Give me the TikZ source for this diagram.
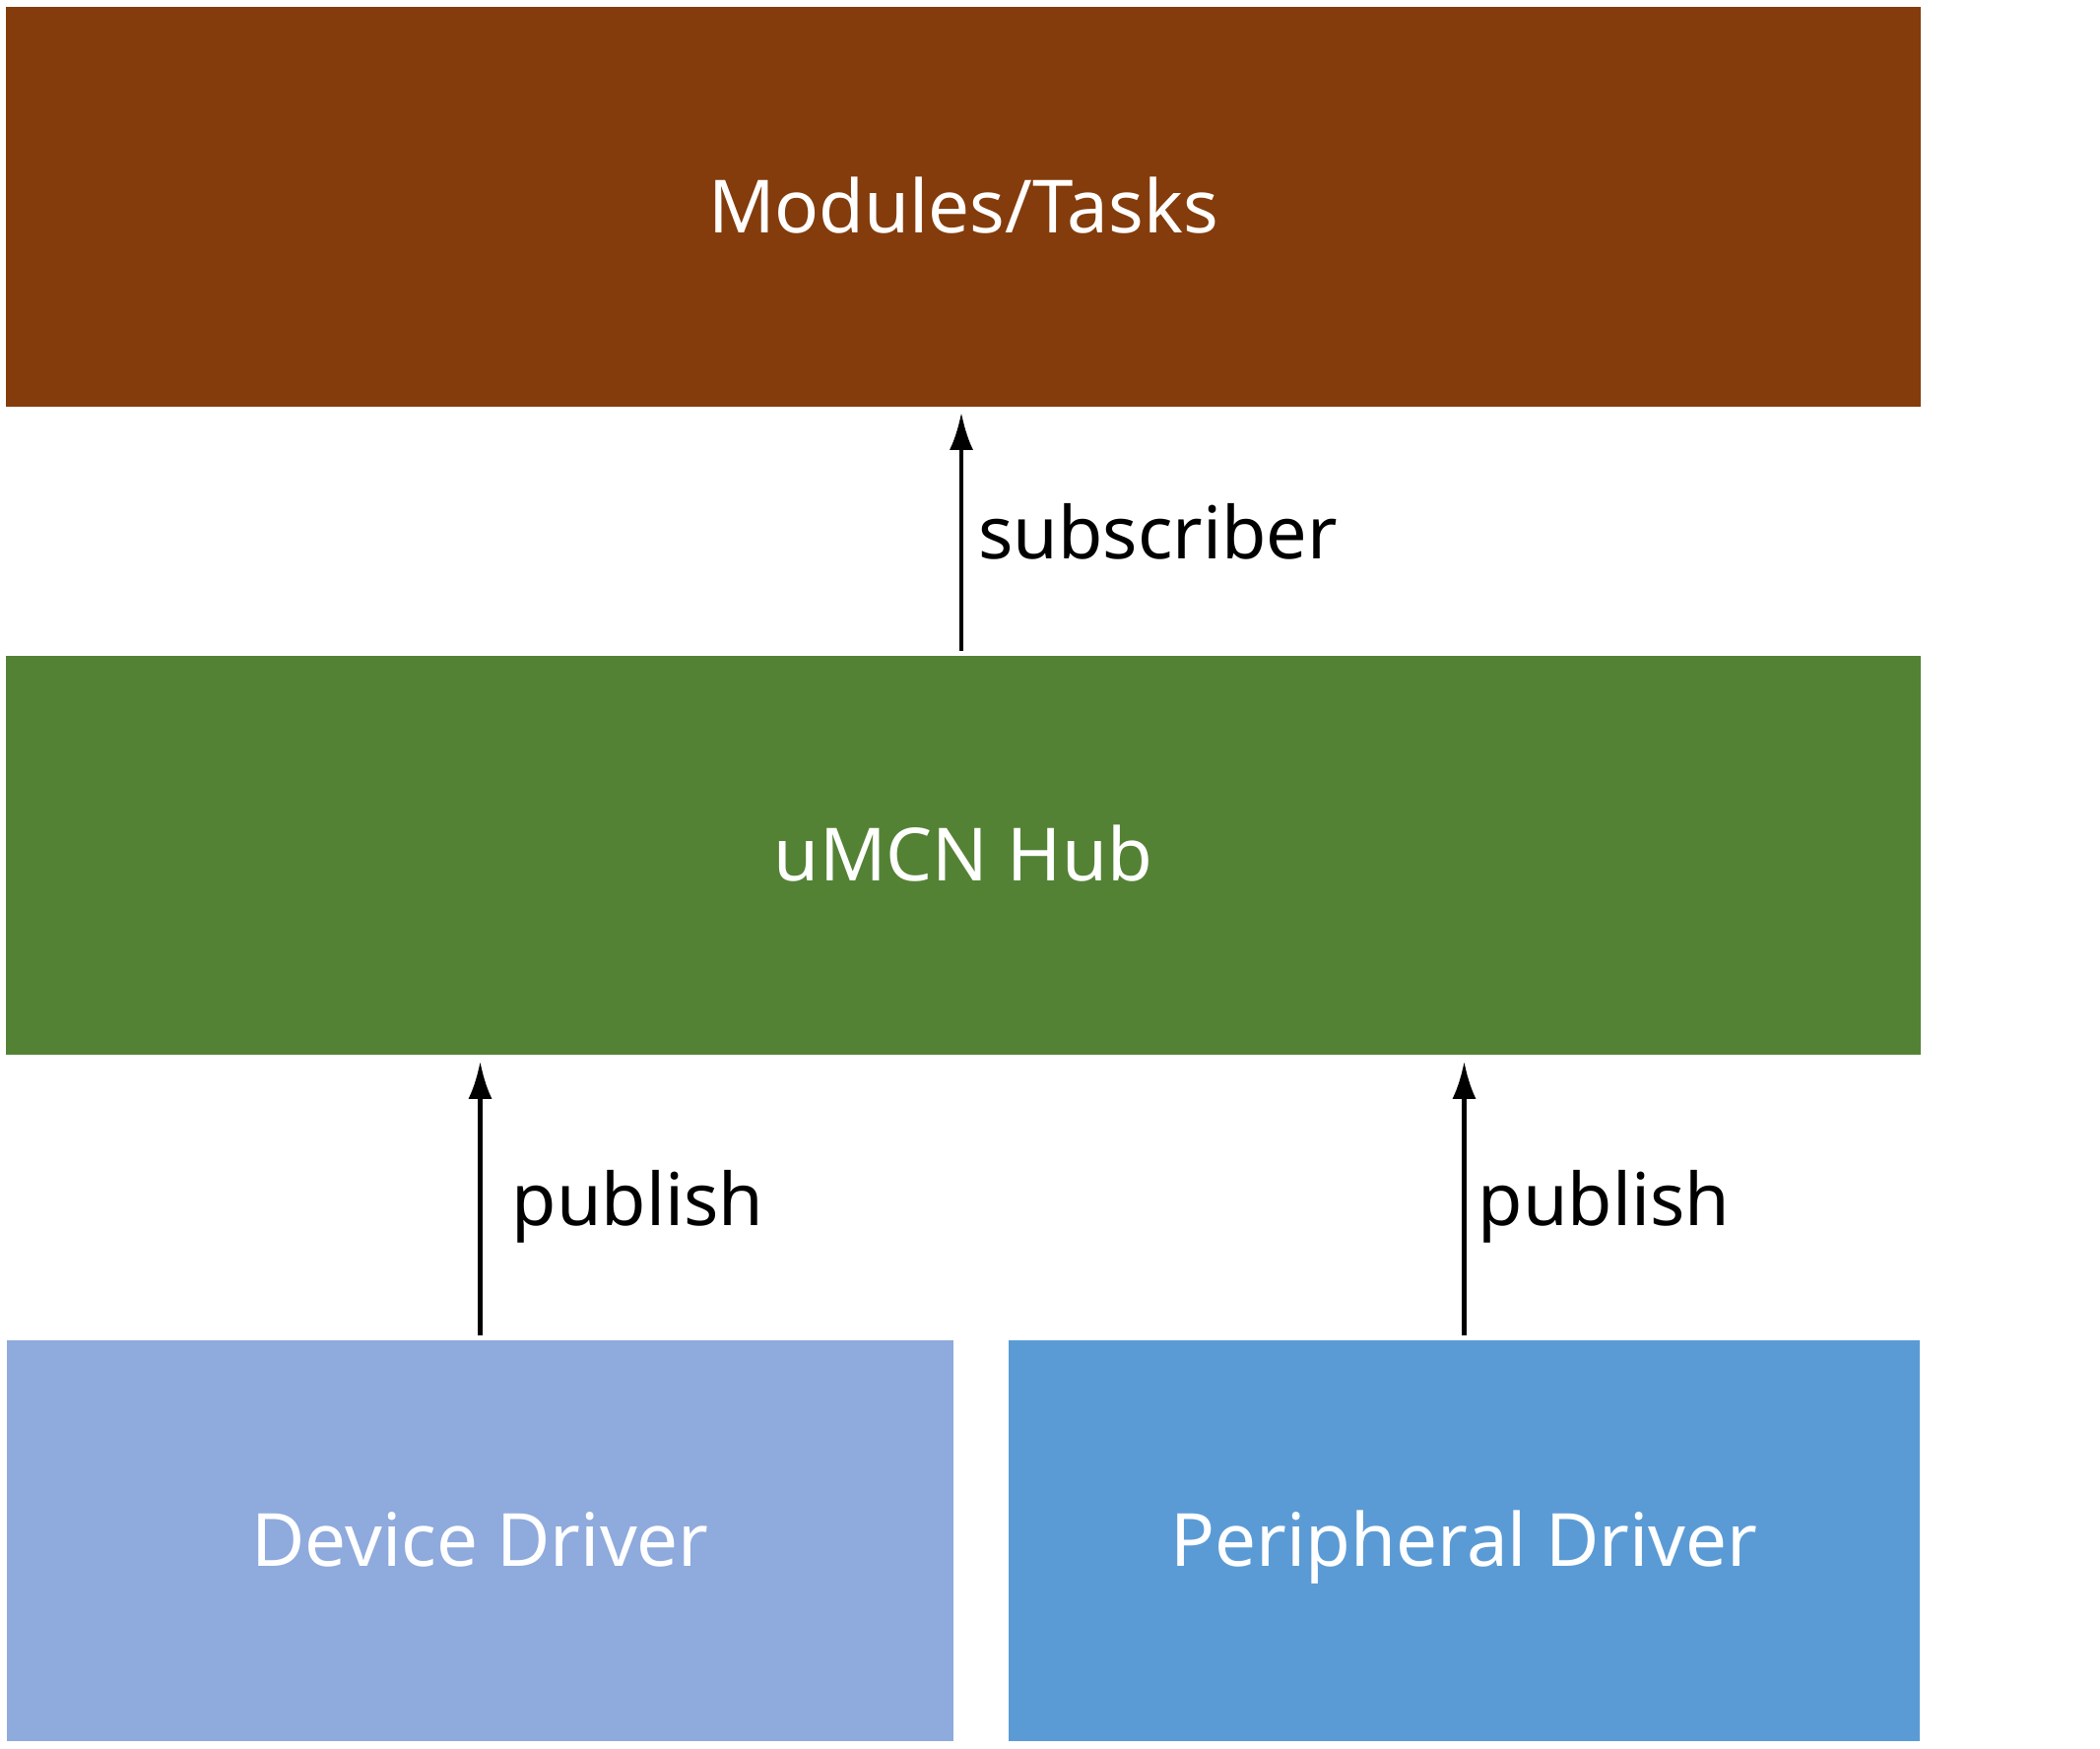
\documentclass[tikz,border=0pt]{standalone}
\usepackage{fontspec}
\setmainfont{Noto Sans}
\usetikzlibrary{arrows.meta}
\definecolor{taskbrown}{HTML}{843C0C}
\definecolor{hubgreen}{HTML}{548235}
\definecolor{devblue}{HTML}{8FAADC}
\definecolor{perblue}{HTML}{5B9BD5}
\tikzset{
	layer/.style={inner sep=0, text=white, text height=1.5em, text depth=0pt, font=\fontsize{21.2}{25}\selectfont},
	flow/.style={line width=0.045cm, -{Latex[length=0.38cm, width=0.24cm]}},
	flowlabel/.style={font=\fontsize{21}{25}\selectfont, anchor=west, inner sep=0}
}

\begin{document}
\begin{tikzpicture}[x=0.01cm, y=0.01cm]
			%%%%% START %%%%%
			
			\useasboundingbox (0, 0) rectangle (2132, 1776);
			
			\node[layer, fill=taskbrown, minimum width=19.42cm, minimum height=4.06cm] (tasks) at (978, 1566) {Modules/Tasks};
			\node[layer, fill=hubgreen, minimum width=19.42cm, minimum height=4.05cm] (hub) at (978, 907.5) {uMCN Hub};
			
			\node[layer, fill=devblue, minimum width=9.61cm, minimum height=4.07cm] (devdrv) at (487.5, 211.5) {Device Driver};
			\node[layer, fill=perblue, minimum width=9.25cm, minimum height=4.07cm] (perdrv) at (1486.5, 211.5) {Peripheral Driver};
			
			\draw[flow] ([xshift=-0.02cm, yshift=0.04cm]hub.north) -- ([xshift=-0.02cm, yshift=-0.05cm]tasks.south)
				node[flowlabel, midway, xshift=0.15cm] (sublbl) {subscriber};
			
			\draw[flow] ([yshift=0.04cm]devdrv.north) -- ([yshift=-0.06cm]devdrv.north |- hub.south)
				node[flowlabel, midway, xshift=0.30cm, yshift=-0.08cm] (publbl1) {publish};
			\draw[flow] ([yshift=0.04cm]perdrv.north) -- ([yshift=-0.06cm]perdrv.north |- hub.south)
				node[flowlabel, midway, xshift=0.12cm, yshift=-0.08cm] (publbl2) {publish};
			
			%%%%% END %%%%%
\end{tikzpicture}
\end{document}
